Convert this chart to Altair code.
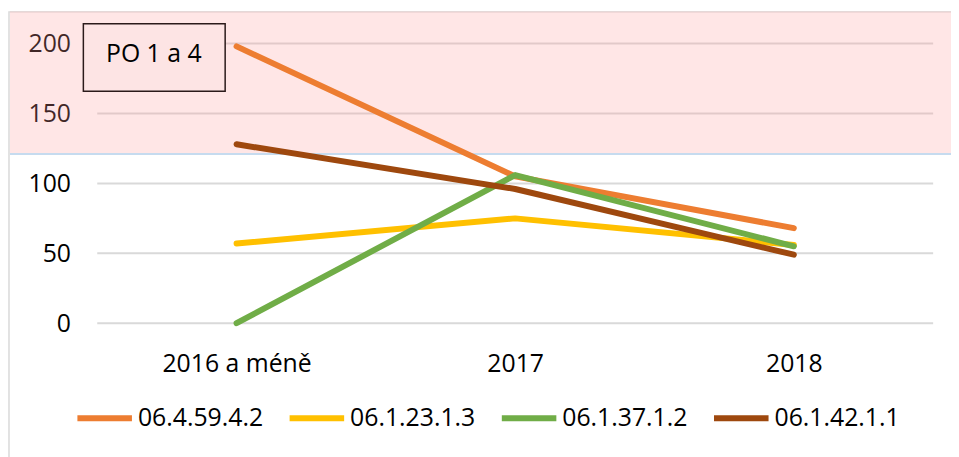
import altair as alt
import pandas as pd

categories = ["2016 a méně", "2017", "2018"]
series_names = ["06.4.59.4.2", "06.1.23.1.3", "06.1.37.1.2", "06.1.42.1.1"]
s_0645942 = [198, 105, 68]
s_0612313 = [57, 75, 56]
s_0613712 = [0, 106, 55]
s_0614211 = [128, 96, 49]
series_colors = ["#ED7D31", "#FFC000", "#70AD47", "#9E480E"]
y_ticks = [0, 50, 100, 150, 200]
band_low = 121
band_high = 223
box_label = "PO 1 a 4"

rows = []
for name, vals in zip(series_names, [s_0645942, s_0612313, s_0613712, s_0614211]):
    for i, (c, v) in enumerate(zip(categories, vals)):
        rows.append({"cat": c, "value": v, "series": name, "ord": i})
df = pd.DataFrame(rows)

W, H = 843, 282
FONT = "Open Sans"
FS = 25

x_enc = alt.X("cat:N", sort=categories, scale=alt.Scale(type="point", padding=0.5),
              axis=alt.Axis(title=None, labelAngle=0, ticks=False, domain=False, grid=False,
                            labelFontSize=FS, labelFont=FONT, labelColor="#000000",
                            labelPadding=29))
y_scale = alt.Scale(domain=[0, 200], nice=False, zero=True)

frame = alt.Chart(pd.DataFrame({"a": [0]})).mark_rect(
    fill="white", fillOpacity=0, stroke="#d9d9d9", strokeWidth=1.5
).encode(x=alt.value(-89), x2=alt.value(W + 40), y=alt.value(-32), y2=alt.value(H + 140))

grid = alt.Chart(pd.DataFrame({"v": y_ticks})).mark_rule(color="#d9d9d9", strokeWidth=2).encode(
    y=alt.Y("v:Q", scale=y_scale,
            axis=alt.Axis(title=None, values=y_ticks, ticks=False, domain=False, grid=False,
                          labelFontSize=FS, labelFont=FONT, labelColor="#000000",
                          labelPadding=27)),
    x=alt.value(0), x2=alt.value(W),
)

band_df = pd.DataFrame({"lo": [band_low], "hi": [band_high]})
band = alt.Chart(band_df).mark_rect(fill="#ff9a9a", opacity=0.25).encode(
    y=alt.Y("lo:Q", scale=y_scale), y2="hi:Q",
    x=alt.value(-88), x2=alt.value(W + 40),
)
band_edge = alt.Chart(band_df).mark_rule(color="#c6dbef", strokeWidth=2).encode(
    y=alt.Y("lo:Q", scale=y_scale), x=alt.value(-88), x2=alt.value(W + 40),
)

lines = alt.Chart(df).mark_line(strokeWidth=6, strokeCap="round", strokeJoin="round").encode(
    x=x_enc,
    y=alt.Y("value:Q", scale=y_scale),
    color=alt.Color("series:N", sort=series_names,
                    scale=alt.Scale(domain=series_names, range=series_colors),
                    legend=alt.Legend(title=None, orient="none", direction="horizontal",
                                      columns=4, legendX=-23, legendY=347,
                                      symbolType="stroke", symbolSize=3025,
                                      symbolStrokeWidth=6, labelFontSize=FS, labelFont=FONT,
                                      labelColor="#000000", labelLimit=400, labelOffset=3,
                                      columnPadding=14)),
    order="ord:Q",
)

box = alt.Chart(pd.DataFrame({"t": [box_label]})).mark_rect(
    fill="#fde4e4", stroke="#2b1a1a", strokeWidth=1.5
).encode(x=alt.value(-14), x2=alt.value(129), y=alt.value(-20), y2=alt.value(48))
box_text = alt.Chart(pd.DataFrame({"t": [box_label]})).mark_text(
    font=FONT, fontSize=FS, color="#000000", align="center", baseline="middle"
).encode(text="t:N", x=alt.value(57), y=alt.value(11))

chart = alt.layer(frame, grid, band, band_edge, lines, box, box_text).properties(
    width=W, height=H,
    autosize=alt.AutoSizeParams(type="none"),
    padding={"left": 90, "top": 34, "right": 18, "bottom": 133},
).configure_view(stroke=None)

chart.save("out.html", embed_options={"renderer": "svg", "actions": False})
